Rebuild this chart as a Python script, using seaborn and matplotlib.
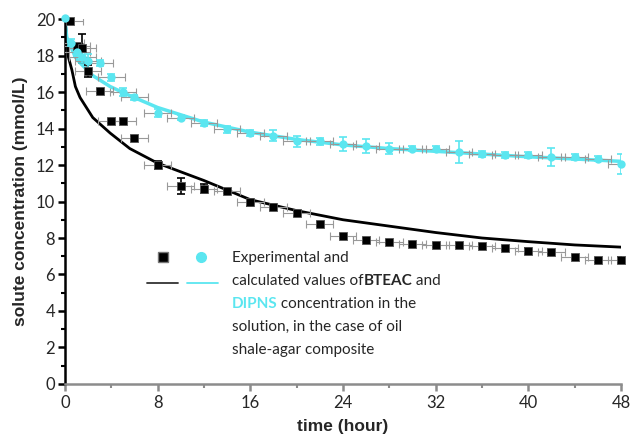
import numpy as np
import pandas as pd
import seaborn as sns
import matplotlib.pyplot as plt

# =====================================
# DATA
# =====================================

t_bteac = [0.4, 1, 1.5, 2, 3, 4, 5, 6, 8, 10, 12, 14, 16, 18, 20, 22, 24,
           26, 28, 30, 32, 34, 36, 38, 40, 42, 44, 46, 48]
c_bteac = [19.9, 18.5, 18.4, 17.15, 16.05, 14.4, 14.4, 13.5, 12.0, 10.85, 10.7,
           10.55, 9.95, 9.7, 9.35, 8.77, 8.1, 7.9, 7.8, 7.68, 7.62, 7.6, 7.55,
           7.45, 7.3, 7.25, 6.95, 6.8, 6.8]
e_bteac = [0.1, 0.15, 0.8, 0.35, 0.1, 0.1, 0.1, 0.1, 0.2, 0.45, 0.25, 0.1,
           0.2, 0.15, 0.15, 0.1, 0.1, 0.1, 0.1, 0.1, 0.1, 0.1, 0.1, 0.1, 0.15,
           0.1, 0.1, 0.1, 0.15]

t_dipns = [0, 0.5, 1, 1.5, 2, 3, 4, 5, 6, 8, 10, 12, 14, 16, 18, 20, 22, 24,
           26, 28, 30, 32, 34, 36, 38, 40, 42, 44, 46, 48]
c_dipns = [20.05, 18.7, 18.2, 17.9, 17.7, 17.6, 16.8, 16.0, 15.7, 14.85, 14.6,
           14.3, 13.95, 13.75, 13.6, 13.3, 13.3, 13.15, 13.05, 12.9, 12.9, 12.9,
           12.7, 12.6, 12.55, 12.55, 12.45, 12.45, 12.35, 12.05]
e_dipns = [0, 0.2, 0.2, 0.3, 0.4, 0.15, 0.2, 0.2, 0.15, 0.2, 0.15, 0.15, 0.2,
           0.15, 0.3, 0.3, 0.2, 0.4, 0.4, 0.3, 0.15, 0.15, 0.6, 0.15, 0.15,
           0.15, 0.5, 0.15, 0.15, 0.55]

# calculated (model) curves
t_fit = [0, 0.15, 0.3, 0.6, 0.9, 1.3, 2.4, 3.9, 5.6, 8, 12, 16, 20, 24, 28,
         32, 36, 40, 44, 48]
fit_bteac = [20.0, 19.0, 17.9, 17.2, 16.3, 15.7, 14.6, 13.75, 12.9, 12.1, 11.15,
             10.1, 9.5, 9.0, 8.65, 8.3, 8.0, 7.8, 7.62, 7.5]
fit_dipns = [20.0, 19.0, 18.7, 18.35, 17.9, 17.6, 16.9, 16.3, 15.8, 15.15, 14.35,
             13.8, 13.4, 13.1, 12.9, 12.75, 12.6, 12.45, 12.33, 12.2]

x_err = 1.15
CYAN = '#5BE6F0'

# =====================================
# PLOT
# =====================================

sns.set_style("white")
plt.rcParams['font.family'] = ['Lato', 'DejaVu Sans']

fig = plt.figure(figsize=(6.32, 4.38), dpi=100)
ax = fig.add_axes([0.1028, 0.1233, 0.8798, 0.8333])

fit_df = pd.DataFrame({'t': t_fit, 'BTEAC': fit_bteac, 'DIPNS': fit_dipns})

sns.lineplot(data=fit_df, x='t', y='BTEAC', color='black', lw=2, ax=ax)
sns.lineplot(data=fit_df, x='t', y='DIPNS', color=CYAN, lw=2.5, ax=ax)

# horizontal (gray) error bars
ax.errorbar(t_bteac, c_bteac, xerr=x_err, fmt='none', ecolor='#999999',
            elinewidth=0.8, capsize=3, capthick=0.8, zorder=3)
ax.errorbar(t_dipns[1:], c_dipns[1:], xerr=x_err, fmt='none', ecolor='#999999',
            elinewidth=0.8, capsize=3, capthick=0.8, zorder=3)

# vertical error bars
ax.errorbar(t_bteac, c_bteac, yerr=e_bteac, fmt='none', ecolor='black',
            elinewidth=1.2, capsize=3, capthick=1.2, zorder=4)
ax.errorbar(t_dipns, c_dipns, yerr=e_dipns, fmt='none', ecolor=CYAN,
            elinewidth=1.2, capsize=3, capthick=1.2, zorder=4)

sns.scatterplot(x=t_bteac, y=c_bteac, marker='s', s=36, color='black',
                edgecolor='#555555', linewidth=0.6, ax=ax, zorder=5, clip_on=False)
sns.scatterplot(x=t_dipns, y=c_dipns, marker='o', s=36, color=CYAN,
                edgecolor=CYAN, linewidth=0, ax=ax, zorder=5, clip_on=False)

# =====================================
# AXES
# =====================================

ax.set_xlim(0, 48)
ax.set_ylim(0, 20)
ax.set_xticks(range(0, 49, 8))
ax.set_xticks(range(4, 48, 8), minor=True)
ax.set_yticks(range(0, 21, 2))
ax.set_yticks(range(1, 20, 2), minor=True)

for s in ['top', 'right']:
    ax.spines[s].set_visible(False)
ax.spines['left'].set_color('black')
ax.spines['left'].set_linewidth(1.8)
ax.spines['bottom'].set_color('#8c8c8c')
ax.spines['bottom'].set_linewidth(1.8)

ax.tick_params(axis='y', which='major', direction='out', length=5, width=1.8,
               color='black', labelsize=12, pad=2, left=True)
ax.tick_params(axis='y', which='minor', direction='out', length=3, width=1.5,
               color='black', left=True)
ax.tick_params(axis='x', which='major', direction='out', length=5, width=1.8,
               color='#8c8c8c', labelsize=12, pad=3, bottom=True)
ax.tick_params(axis='x', which='minor', direction='out', length=3, width=1.5,
               color='#8c8c8c', bottom=True)

ax.set_xlabel("time (hour)", fontsize=12.5, fontweight='bold',
              family='Liberation Sans', labelpad=6)
ax.set_ylabel("solute concentration (mmol/L)", fontsize=12.5, fontweight='bold',
              family='Liberation Sans', labelpad=6)

# =====================================
# LEGEND (hand built)
# =====================================

ax.plot([8.46], [6.95], marker='s', ms=7, color='black', mec='#777777',
        clip_on=False)
ax.plot([11.7], [6.95], marker='o', ms=7, color=CYAN, mec=CYAN, clip_on=False)
ax.plot([7.1, 9.8], [5.53, 5.53], color='#333333', lw=1.3)
ax.plot([10.5, 13.2], [5.53, 5.53], color=CYAN, lw=1.3)

fs = 11
x0 = 14.4
y0 = 6.9
dy = 1.26
ax.text(x0, y0, "Experimental and", fontsize=fs, va='center')
t1 = ax.text(x0, y0 - dy, "calculated values of", fontsize=fs, va='center')
t2 = ax.annotate("BTEAC", xy=(1, 0.5), xycoords=t1, va='center', ha='left',
                 fontsize=fs, fontweight='bold')
ax.annotate(" and", xy=(1, 0.5), xycoords=t2, va='center', ha='left', fontsize=fs)
t3 = ax.text(x0, y0 - 2 * dy, "DIPNS", fontsize=fs, va='center',
             color=CYAN, fontweight='bold')
ax.annotate(" concentration in the", xy=(1, 0.5), xycoords=t3, va='center',
            ha='left', fontsize=fs)
ax.text(x0, y0 - 3 * dy, "solution, in the case of oil", fontsize=fs, va='center')
ax.text(x0, y0 - 4 * dy, "shale-agar composite", fontsize=fs, va='center')

fig.savefig("out.png", dpi=100)
